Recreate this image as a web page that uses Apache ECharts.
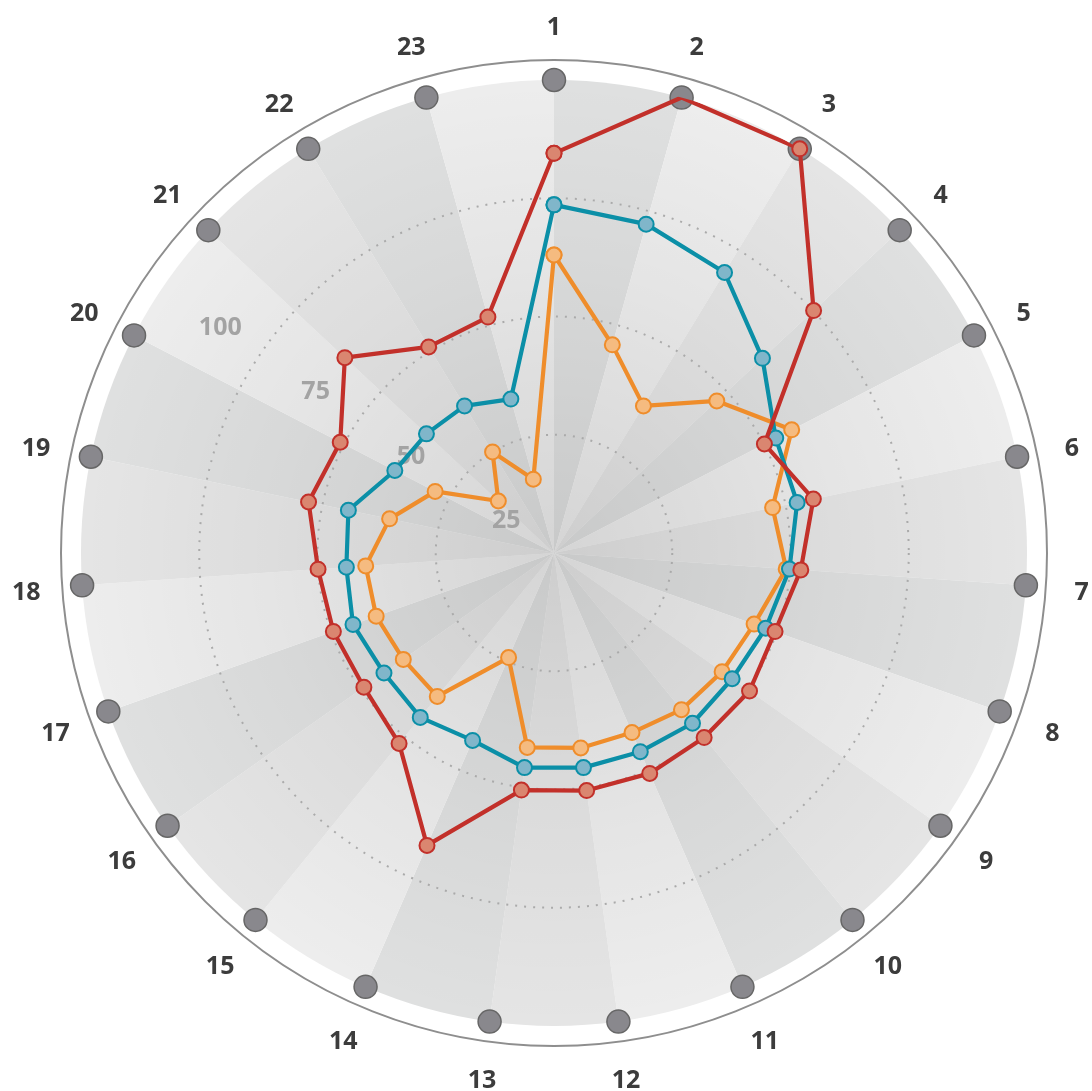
<!DOCTYPE html>
<html><head><meta charset="utf-8">
<script src="https://cdn.jsdelivr.net/npm/echarts@6/dist/echarts.min.js"></script>
<style>html,body{margin:0;padding:0;background:#fff}#c{width:1092px;height:1091px}</style>
</head><body><div id="c"></div>
<script>
const categories = ['1','2','3','4','5','6','7','8','9','10','11','12','13','14','15','16','17','18','19','20','21','22','23'];
const radiusTickLabels = ['25','50','75','100'];
const redValues    = [84.5,100,100,75.1,50.1,56,52.3,49.6,50.6,50.3,50.8,50.7,50.6,67.4,51.9,49.2,49.5,50,53,50.9,60.5,51,51.8];
const tealValues   = [73.6,72.2,69.4,60.3,52.8,52.5,49.9,47.5,46.1,46.4,45.8,45.8,45.8,43.2,44.8,44,45.1,44,44.4,37.9,36.9,36.4,33.8];
const orangeValues = [63,45.7,36.4,47.1,56.6,47.2,49.2,44.9,43.5,42.7,41.4,41.6,41.5,24.1,39.1,39,39.9,39.9,35.5,28.3,16.1,25,16.2];
const maxValues    = [100,100,100,100,100,100,100,100,100,100,100,100,100,100,100,100,100,100,100,100,100,100,100];
const sectorValues = [100,100,100,100,100,100,100,100,100,100,100,100,100,100,100,100,100,100,100,100,100,100,100];

const CX = 554, CY = 553, R = 473, RING = 493, RLABEL = 460, RCAT = 529;
const sectorColors = ['#dfe0e0', '#ededed', '#e5e5e5'];
const FONT = "'Open Sans', 'Noto Sans', sans-serif";

function closedLoop(vals) {
  const pts = vals.map((v, i) => [v, i]);
  pts.push([vals[0], vals.length]);
  return pts;
}
function lineSeries(name, vals, lineColor, fillColor, z) {
  return {
    name, type: 'line', coordinateSystem: 'polar', polarIndex: 0,
    data: closedLoop(vals), z,
    symbol: 'circle', symbolSize: 15,
    lineStyle: { color: lineColor, width: 4.2 },
    itemStyle: { color: fillColor, borderColor: lineColor, borderWidth: 2 },
    silent: true
  };
}
const hiddenAxis = { axisLine: { show: false }, axisTick: { show: false }, axisLabel: { show: false }, splitLine: { show: false } };

const chart = echarts.init(document.getElementById('c'), null, { renderer: 'canvas' });
chart.setOption({
  animation: false,
  backgroundColor: '#ffffff',
  polar: [
    { center: [CX, CY], radius: R },
    { center: [CX, CY], radius: R },
    { center: [CX, CY], radius: RLABEL },
    { center: [CX, CY], radius: RING },
    { center: [CX, CY], radius: RCAT }
  ],
  angleAxis: [
    Object.assign({ polarIndex: 0, type: 'value', min: 0, max: categories.length, interval: 1,
      startAngle: 90, clockwise: true }, hiddenAxis),
    Object.assign({ polarIndex: 1, type: 'category', data: categories, boundaryGap: true,
      startAngle: 90, clockwise: true }, hiddenAxis),
    Object.assign({ polarIndex: 2, type: 'value', min: 0, max: 360, startAngle: 146 }, hiddenAxis),
    Object.assign({}, hiddenAxis, { polarIndex: 3, type: 'value', min: 0, max: 360,
      axisLine: { show: true, lineStyle: { color: '#8e8e8e', width: 2 } } }),
    Object.assign({ polarIndex: 4, type: 'value', min: 0, max: categories.length, interval: 1,
      startAngle: 90, clockwise: true }, hiddenAxis)
  ],
  radiusAxis: [
    Object.assign({}, hiddenAxis, { polarIndex: 0, type: 'value', min: 0, max: 100, interval: 25, z: 2,
      splitLine: { show: true, lineStyle: { color: ['#aaaaaa','#aaaaaa','#aaaaaa','#aaaaaa','rgba(0,0,0,0)'], width: 2, type: [2, 7] } } }),
    Object.assign({ polarIndex: 1, type: 'value', min: 0, max: 100 }, hiddenAxis),
    Object.assign({}, hiddenAxis, { polarIndex: 2, type: 'category', data: radiusTickLabels, boundaryGap: true, z: 5,
      axisLabel: { show: true, margin: 0, align: 'center', verticalAlign: 'middle', rotate: 0,
        color: '#a3a3a3', fontSize: 25, fontWeight: 'bold', fontFamily: FONT } }),
    Object.assign({ polarIndex: 3, type: 'value', min: 0, max: 100 }, hiddenAxis),
    Object.assign({ polarIndex: 4, type: 'value', min: 0, max: 1 }, hiddenAxis)
  ],
  series: [
    { type: 'bar', coordinateSystem: 'polar', polarIndex: 1, z: 1, silent: true,
      barCategoryGap: '0%', barGap: '0%',
      data: sectorValues.map((v, i) => ({ value: v, itemStyle: { color: sectorColors[i % 3] } })) },
    { type: 'pie', center: [CX, CY], radius: [0, R], z: 1, silent: true,
      label: { show: false }, labelLine: { show: false }, emphasis: { disabled: true },
      itemStyle: { borderWidth: 0, color: { type: 'radial', x: 0.5, y: 0.5, r: 0.5,
        colorStops: [{ offset: 0, color: 'rgba(0,0,0,0.10)' }, { offset: 0.6, color: 'rgba(0,0,0,0.035)' }, { offset: 1, color: 'rgba(0,0,0,0)' }] } },
      data: [{ value: 1 }] },
    { type: 'scatter', coordinateSystem: 'polar', polarIndex: 0, z: 3, silent: true,
      symbol: 'circle', symbolSize: 23,
      itemStyle: { color: '#89888d', borderColor: '#666666', borderWidth: 1.5, opacity: 1 },
      data: maxValues.map((v, i) => [v, i]) },
    lineSeries('orange', orangeValues, '#ef8d2b', '#f5bb80', 4),
    lineSeries('teal', tealValues, '#0b8fa7', '#80b6ca', 5),
    lineSeries('red', redValues, '#c2302a', '#da8670', 6),
    { type: 'scatter', coordinateSystem: 'polar', polarIndex: 4, z: 7, silent: true, clip: false,
      symbol: 'circle', symbolSize: 0, itemStyle: { opacity: 1 },
      label: { show: true, position: 'inside', offset: [0, 4], formatter: p => categories[p.dataIndex],
        color: '#3c3c3c', fontSize: 25, fontWeight: 'bold', fontFamily: FONT, opacity: 1 },
      data: categories.map((c, i) => [1, i]) }
  ]
});
</script></body></html>
